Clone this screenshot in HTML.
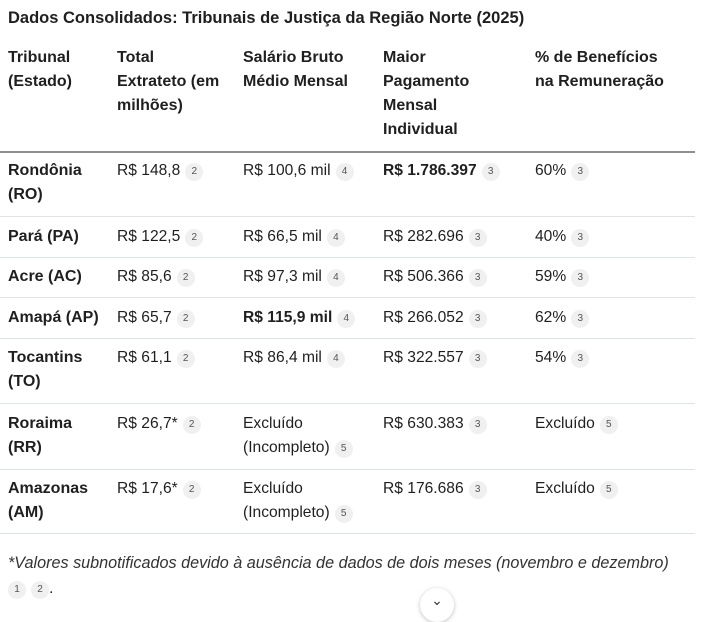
<!DOCTYPE html><html><head><meta charset="utf-8"><style>
body{margin:0;width:715px;height:603px;background:#fff;font-family:"Liberation Sans",sans-serif;color:#1f1f1f;position:relative;overflow:hidden}
.a{position:absolute;font-size:16px;line-height:24px;white-space:nowrap}
.d{font-size:15.6px}
.b{font-weight:bold}
.h{font-weight:bold;color:#1f1f1f}
.n{display:inline-block;width:18px;height:18px;border-radius:9px;background:#f0f0f0;color:#555;font-size:10px;line-height:18px;text-align:center;vertical-align:1px;margin-left:5px;font-weight:normal}
.l{position:absolute;left:0;width:695px;height:1px;background:#dde3ea}
</style></head><body>
<div class="a b" style="left:8px;top:6px;font-size:16.5px">Dados Consolidados: Tribunais de Justiça da Região Norte (2025)</div>
<div class="a h" style="left:8px;top:46px">Tribunal<br>(Estado)</div>
<div class="a h" style="left:117px;top:46px">Total<br>Extrateto (em<br>milhões)</div>
<div class="a h" style="left:243px;top:46px">Salário Bruto<br>Médio Mensal</div>
<div class="a h" style="left:383px;top:46px">Maior<br>Pagamento<br>Mensal<br>Individual</div>
<div class="a h" style="left:535px;top:46px">% de Benefícios<br>na Remuneração</div>
<div class="l" style="top:151px;height:2px;background:#8e8e8e"></div>

<div class="a b" style="left:8px;top:159px">Rondônia<br>(RO)</div>
<div class="a d" style="left:117px;top:159px">R$ 148,8<span class="n">2</span></div>
<div class="a d" style="left:243px;top:159px">R$ 100,6 mil<span class="n">4</span></div>
<div class="a d" style="left:383px;top:159px"><b>R$ 1.786.397</b><span class="n">3</span></div>
<div class="a d" style="left:535px;top:159px">60%<span class="n">3</span></div>
<div class="l" style="top:216px"></div>

<div class="a b" style="left:8px;top:225px">Pará (PA)</div>
<div class="a d" style="left:117px;top:225px">R$ 122,5<span class="n">2</span></div>
<div class="a d" style="left:243px;top:225px">R$ 66,5 mil<span class="n">4</span></div>
<div class="a d" style="left:383px;top:225px">R$ 282.696<span class="n">3</span></div>
<div class="a d" style="left:535px;top:225px">40%<span class="n">3</span></div>
<div class="l" style="top:257px"></div>

<div class="a b" style="left:8px;top:265px">Acre (AC)</div>
<div class="a d" style="left:117px;top:265px">R$ 85,6<span class="n">2</span></div>
<div class="a d" style="left:243px;top:265px">R$ 97,3 mil<span class="n">4</span></div>
<div class="a d" style="left:383px;top:265px">R$ 506.366<span class="n">3</span></div>
<div class="a d" style="left:535px;top:265px">59%<span class="n">3</span></div>
<div class="l" style="top:297px"></div>

<div class="a b" style="left:8px;top:306px">Amapá (AP)</div>
<div class="a d" style="left:117px;top:306px">R$ 65,7<span class="n">2</span></div>
<div class="a d" style="left:243px;top:306px"><b>R$ 115,9 mil</b><span class="n">4</span></div>
<div class="a d" style="left:383px;top:306px">R$ 266.052<span class="n">3</span></div>
<div class="a d" style="left:535px;top:306px">62%<span class="n">3</span></div>
<div class="l" style="top:338px"></div>

<div class="a b" style="left:8px;top:346px">Tocantins<br>(TO)</div>
<div class="a d" style="left:117px;top:346px">R$ 61,1<span class="n">2</span></div>
<div class="a d" style="left:243px;top:346px">R$ 86,4 mil<span class="n">4</span></div>
<div class="a d" style="left:383px;top:346px">R$ 322.557<span class="n">3</span></div>
<div class="a d" style="left:535px;top:346px">54%<span class="n">3</span></div>
<div class="l" style="top:403px"></div>

<div class="a b" style="left:8px;top:412px">Roraima<br>(RR)</div>
<div class="a d" style="left:117px;top:412px">R$ 26,7*<span class="n">2</span></div>
<div class="a d" style="left:243px;top:412px">Excluído<br>(Incompleto)<span class="n">5</span></div>
<div class="a d" style="left:383px;top:412px">R$ 630.383<span class="n">3</span></div>
<div class="a d" style="left:535px;top:412px">Excluído<span class="n">5</span></div>
<div class="l" style="top:469px"></div>

<div class="a b" style="left:8px;top:477px">Amazonas<br>(AM)</div>
<div class="a d" style="left:117px;top:477px">R$ 17,6*<span class="n">2</span></div>
<div class="a d" style="left:243px;top:477px">Excluído<br>(Incompleto)<span class="n">5</span></div>
<div class="a d" style="left:383px;top:477px">R$ 176.686<span class="n">3</span></div>
<div class="a d" style="left:535px;top:477px">Excluído<span class="n">5</span></div>
<div class="l" style="top:533px"></div>

<div class="a" style="left:8px;top:551px;font-style:italic;color:#333;font-size:16.2px">*Valores subnotificados devido à ausência de dados de dois meses (novembro e dezembro)</div>
<div class="a" style="left:3px;top:577px"><span class="n">1</span><span class="n">2</span>.</div>
<div style="position:absolute;left:420px;top:588px;width:34px;height:34px;border-radius:17px;background:#fff;box-shadow:0 1px 4px rgba(0,0,0,.25);text-align:center;font-size:14px;line-height:24px;color:#333">⌄</div>
</body></html>
